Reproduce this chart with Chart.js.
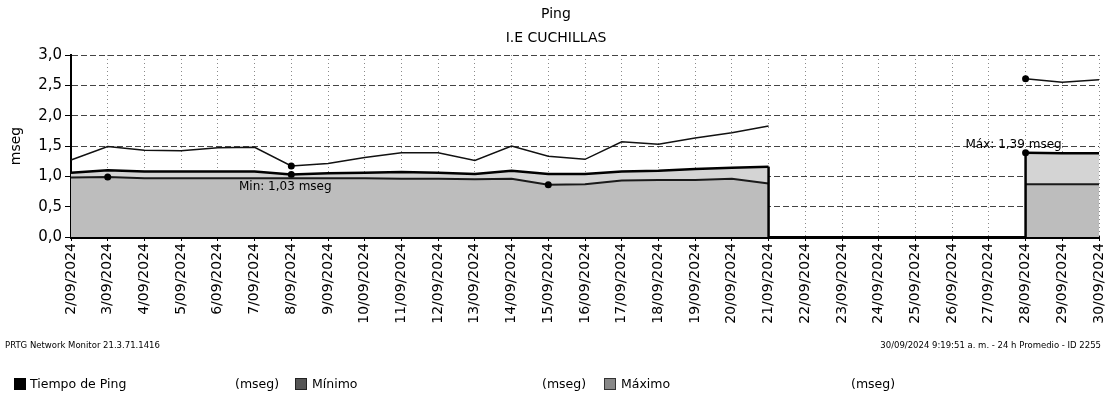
<!DOCTYPE html>
<html>
<head>
<meta charset="utf-8">
<script src="https://cdn.jsdelivr.net/npm/chart.js@4.4.1/dist/chart.umd.min.js"></script>
<style>
  html, body { margin: 0; padding: 0; background: #fff; }
  #wrap { position: relative; width: 1107px; height: 402px; font-family: "DejaVu Sans", sans-serif; color: #000; }
  #chart { position: absolute; left: 0; top: 0; }
  .txt { position: absolute; white-space: nowrap; }
  .title { left: 0; width: 1112px; text-align: center; font-size: 14px; }
  .foot { font-size: 8.5px; top: 340px; }
  .leg { font-size: 12.5px; top: 376px; }
  .sw { position: absolute; top: 378px; width: 12px; height: 12px; }
</style>
</head>
<body>
<div id="wrap">
  <canvas id="chart" width="1107" height="402"></canvas>
  <div class="txt title" style="top:5px">Ping</div>
  <div class="txt title" style="top:29px">I.E CUCHILLAS</div>
  <div class="txt foot" style="left:5px">PRTG Network Monitor 21.3.71.1416</div>
  <div class="txt foot" style="right:6px">30/09/2024 9:19:51 a. m. - 24 h Promedio - ID 2255</div>
  <div class="sw" style="left:14px;background:#000"></div>
  <div class="txt leg" style="left:30px">Tiempo de Ping</div>
  <div class="txt leg" style="left:235px">(mseg)</div>
  <div class="sw" style="left:295px;background:#555;border:1px solid #222;box-sizing:border-box"></div>
  <div class="txt leg" style="left:312px">Mínimo</div>
  <div class="txt leg" style="left:542px">(mseg)</div>
  <div class="sw" style="left:604px;background:#888;border:1px solid #333;box-sizing:border-box"></div>
  <div class="txt leg" style="left:621px">Máximo</div>
  <div class="txt leg" style="left:851px">(mseg)</div>
</div>
<script>
// daily averages, 2/09/2024 .. 30/09/2024 (no data 22/09 - 27/09)
const days = [
  '2/09/2024', '3/09/2024', '4/09/2024', '5/09/2024', '6/09/2024', '7/09/2024',
  '8/09/2024', '9/09/2024', '10/09/2024', '11/09/2024', '12/09/2024', '13/09/2024',
  '14/09/2024', '15/09/2024', '16/09/2024', '17/09/2024', '18/09/2024', '19/09/2024',
  '20/09/2024', '21/09/2024', '22/09/2024', '23/09/2024', '24/09/2024', '25/09/2024',
  '26/09/2024', '27/09/2024', '28/09/2024', '29/09/2024', '30/09/2024'
];

const pingAvg = [
  1.06, 1.10, 1.08, 1.08, 1.08, 1.08, 1.03, 1.05, 1.06, 1.07, 1.06, 1.04,
  1.09, 1.04, 1.04, 1.08, 1.09, 1.12, 1.14, 1.16,
  null, null, null, null, null, null,
  1.39, 1.38, 1.38
];

const pingMin = [
  0.98, 0.99, 0.97, 0.97, 0.97, 0.97, 0.97, 0.97, 0.97, 0.96, 0.96, 0.95,
  0.96, 0.86, 0.87, 0.93, 0.94, 0.94, 0.96, 0.88,
  null, null, null, null, null, null,
  0.87, 0.87, 0.87
];

const pingMax = [
  1.27, 1.49, 1.43, 1.42, 1.47, 1.48, 1.17, 1.21, 1.31, 1.39, 1.39, 1.26,
  1.50, 1.33, 1.28, 1.57, 1.53, 1.63, 1.72, 1.83,
  null, null, null, null, null, null,
  2.61, 2.55, 2.59
];

const yTicks = [0, 0.5, 1, 1.5, 2, 2.5, 3];

const FONT = '"DejaVu Sans", sans-serif';
const comma = (v, d) => v.toFixed(d).replace('.', ',');

// index of the lowest / highest real value of a series
function extremes(arr) {
  let lo = -1, hi = -1;
  arr.forEach((v, i) => {
    if (v == null) return;
    if (lo < 0 || v < arr[lo]) lo = i;
    if (hi < 0 || v > arr[hi]) hi = i;
  });
  return { lo, hi };
}

// PRTG marks the min and max sample of each channel with a dot
const markExtremes = ctx => {
  const e = extremes(ctx.dataset.data);
  return (ctx.dataIndex === e.lo || ctx.dataIndex === e.hi) ? 3.5 : 0;
};

const prtgMarks = {
  id: 'prtgMarks',
  afterDatasetsDraw(chart) {
    const { ctx, scales: { x, y } } = chart;
    ctx.save();
    // close the filled area where data stops / resumes
    ctx.strokeStyle = '#000';
    ctx.lineWidth = 2.5;
    pingAvg.forEach((v, i) => {
      if (v == null) return;
      const gapBefore = i > 0 && pingAvg[i - 1] == null;
      const gapAfter = i < pingAvg.length - 1 && pingAvg[i + 1] == null;
      if (!gapBefore && !gapAfter) return;
      const px = x.getPixelForValue(i);
      ctx.beginPath();
      ctx.moveTo(px, y.getPixelForValue(v));
      ctx.lineTo(px, y.getPixelForValue(0));
      ctx.stroke();
    });
    // min / max labels of the ping time
    const e = extremes(pingAvg);
    ctx.fillStyle = '#000';
    ctx.font = '12px ' + FONT;
    ctx.textAlign = 'center';
    ctx.textBaseline = 'middle';
    ctx.fillText('Min: ' + comma(pingAvg[e.lo], 2) + ' mseg',
      x.getPixelForValue(e.lo) - 6, y.getPixelForValue(pingAvg[e.lo]) + 12);
    ctx.fillText('Máx: ' + comma(pingAvg[e.hi], 2) + ' mseg',
      x.getPixelForValue(e.hi) - 12, y.getPixelForValue(pingAvg[e.hi]) - 8);
    ctx.restore();
  }
};

new Chart(document.getElementById('chart'), {
  type: 'line',
  data: {
    labels: days,
    datasets: [
      {
        label: 'Tiempo de Ping',
        data: pingAvg,
        order: 3,
        borderColor: '#000',
        borderWidth: 2.5,
        backgroundColor: '#d4d4d4',
        fill: 'origin',
        pointRadius: markExtremes,
        pointBackgroundColor: '#000',
        pointBorderWidth: 0,
        tension: 0,
        spanGaps: false
      },
      {
        label: 'Mínimo',
        data: pingMin,
        order: 2,
        borderColor: '#1a1a1a',
        borderWidth: 2,
        backgroundColor: '#bdbdbd',
        fill: 'origin',
        pointRadius: markExtremes,
        pointBackgroundColor: '#000',
        pointBorderWidth: 0,
        tension: 0,
        spanGaps: false
      },
      {
        label: 'Máximo',
        data: pingMax,
        order: 1,
        borderColor: '#111',
        borderWidth: 1.5,
        fill: false,
        pointRadius: markExtremes,
        pointBackgroundColor: '#000',
        pointBorderWidth: 0,
        tension: 0,
        spanGaps: false
      }
    ]
  },
  options: {
    responsive: false,
    animation: false,
    layout: { padding: { top: 55, right: 2, left: 0, bottom: 0 } },
    plugins: {
      legend: { display: false },
      title: { display: false },
      tooltip: { enabled: false }
    },
    scales: {
      x: {
        offset: false,
        afterFit: s => { s.height = 165; s.paddingRight = 8; },
        grid: {
          color: '#8a8a8a',
          tickColor: '#000',
          tickLength: 4,
          lineWidth: 1
        },
        border: { color: '#000', width: 3, dash: [1, 3] },
        ticks: {
          autoSkip: false,
          maxRotation: 90,
          minRotation: 90,
          padding: 2,
          color: '#000',
          font: { family: FONT, size: 14 }
        }
      },
      y: {
        min: 0,
        max: 3,
        afterFit: s => { s.width = 71; },
        afterBuildTicks: s => { s.ticks = yTicks.map(v => ({ value: v })); },
        grid: {
          color: '#444',
          tickColor: '#000',
          tickLength: 6,
          lineWidth: 1
        },
        border: { color: '#000', width: 2, dash: [6, 3] },
        title: {
          display: true,
          text: 'mseg',
          color: '#000',
          font: { family: FONT, size: 14 },
          padding: { top: 8, bottom: 0 }
        },
        ticks: {
          padding: 3,
          color: '#000',
          font: { family: FONT, size: 15 },
          callback: v => comma(v, 1)
        }
      }
    }
  },
  plugins: [prtgMarks]
});
</script>
</body>
</html>
